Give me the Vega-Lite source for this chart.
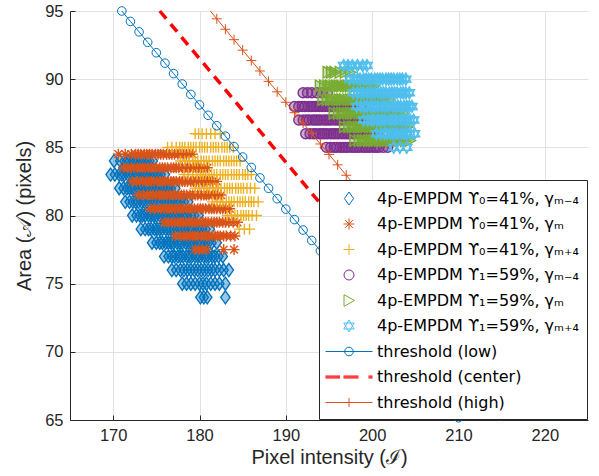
{
  "$schema": "https://vega.github.io/schema/vega-lite/v6.json",
  "width": 518,
  "height": 409,
  "autosize": {"type": "none"},
  "padding": {"left": 70, "top": 11, "right": 11, "bottom": 56},
  "config": {
    "view": {"stroke": null},
    "axis": {"labelFont": "Liberation Sans", "titleFont": "Liberation Sans", "titleFontWeight": "normal", "labelColor": "#262626", "titleColor": "#262626", "domainColor": "#262626", "tickColor": "#262626", "gridColor": "#e2e2e2", "labelFontSize": 16.5, "titleFontSize": 20, "tickSize": -5}
  },
  "datasets": {
    "pts": [
      {"s":"a","x":170.1,"y":84},{"s":"a","x":170.8,"y":84},{"s":"a","x":171.3,"y":84},{"s":"a","x":171.6,"y":84},{"s":"a","x":171.9,"y":84},{"s":"a","x":172.3,"y":84},{"s":"a","x":172.6,"y":84},{"s":"a","x":172.9,"y":84},{"s":"a","x":173.2,"y":84},{"s":"a","x":173.5,"y":84},{"s":"a","x":173.9,"y":84},{"s":"a","x":174.2,"y":84},{"s":"a","x":174.6,"y":84},
      {"s":"a","x":169.7,"y":83},{"s":"a","x":170.2,"y":83},{"s":"a","x":170.7,"y":83},{"s":"a","x":171.0,"y":83},{"s":"a","x":171.3,"y":83},{"s":"a","x":171.7,"y":83},{"s":"a","x":172.0,"y":83},{"s":"a","x":172.3,"y":83},{"s":"a","x":172.6,"y":83},{"s":"a","x":172.9,"y":83},{"s":"a","x":173.3,"y":83},{"s":"a","x":173.6,"y":83},{"s":"a","x":173.9,"y":83},{"s":"a","x":174.2,"y":83},{"s":"a","x":174.6,"y":83},{"s":"a","x":174.9,"y":83},{"s":"a","x":175.2,"y":83},{"s":"a","x":175.5,"y":83},{"s":"a","x":176.0,"y":83},
      {"s":"a","x":170.7,"y":82},{"s":"a","x":171.2,"y":82},{"s":"a","x":171.6,"y":82},{"s":"a","x":171.9,"y":82},{"s":"a","x":172.2,"y":82},{"s":"a","x":172.5,"y":82},{"s":"a","x":172.9,"y":82},{"s":"a","x":173.2,"y":82},{"s":"a","x":173.5,"y":82},{"s":"a","x":173.8,"y":82},{"s":"a","x":174.1,"y":82},{"s":"a","x":174.5,"y":82},{"s":"a","x":174.8,"y":82},{"s":"a","x":175.1,"y":82},{"s":"a","x":175.4,"y":82},{"s":"a","x":175.8,"y":82},{"s":"a","x":176.1,"y":82},{"s":"a","x":176.4,"y":82},{"s":"a","x":176.7,"y":82},{"s":"a","x":177.2,"y":82},
      {"s":"a","x":171.4,"y":81},{"s":"a","x":171.9,"y":81},{"s":"a","x":172.3,"y":81},{"s":"a","x":172.6,"y":81},{"s":"a","x":172.9,"y":81},{"s":"a","x":173.3,"y":81},{"s":"a","x":173.6,"y":81},{"s":"a","x":173.9,"y":81},{"s":"a","x":174.2,"y":81},{"s":"a","x":174.6,"y":81},{"s":"a","x":174.9,"y":81},{"s":"a","x":175.2,"y":81},{"s":"a","x":175.5,"y":81},{"s":"a","x":175.9,"y":81},{"s":"a","x":176.2,"y":81},{"s":"a","x":176.5,"y":81},{"s":"a","x":176.8,"y":81},{"s":"a","x":177.2,"y":81},{"s":"a","x":177.5,"y":81},{"s":"a","x":177.8,"y":81},{"s":"a","x":178.2,"y":81},{"s":"a","x":178.7,"y":81},
      {"s":"a","x":172.2,"y":80},{"s":"a","x":172.7,"y":80},{"s":"a","x":173.1,"y":80},{"s":"a","x":173.4,"y":80},{"s":"a","x":173.7,"y":80},{"s":"a","x":174.1,"y":80},{"s":"a","x":174.4,"y":80},{"s":"a","x":174.7,"y":80},{"s":"a","x":175.0,"y":80},{"s":"a","x":175.4,"y":80},{"s":"a","x":175.7,"y":80},{"s":"a","x":176.0,"y":80},{"s":"a","x":176.3,"y":80},{"s":"a","x":176.7,"y":80},{"s":"a","x":177.0,"y":80},{"s":"a","x":177.3,"y":80},{"s":"a","x":177.6,"y":80},{"s":"a","x":178.0,"y":80},{"s":"a","x":178.3,"y":80},{"s":"a","x":178.6,"y":80},{"s":"a","x":179.0,"y":80},{"s":"a","x":179.4,"y":80},{"s":"a","x":179.9,"y":80},
      {"s":"a","x":173.2,"y":79},{"s":"a","x":173.7,"y":79},{"s":"a","x":174.1,"y":79},{"s":"a","x":174.4,"y":79},{"s":"a","x":174.8,"y":79},{"s":"a","x":175.1,"y":79},{"s":"a","x":175.4,"y":79},{"s":"a","x":175.7,"y":79},{"s":"a","x":176.1,"y":79},{"s":"a","x":176.4,"y":79},{"s":"a","x":176.7,"y":79},{"s":"a","x":177.0,"y":79},{"s":"a","x":177.4,"y":79},{"s":"a","x":177.7,"y":79},{"s":"a","x":178.0,"y":79},{"s":"a","x":178.3,"y":79},{"s":"a","x":178.7,"y":79},{"s":"a","x":179.0,"y":79},{"s":"a","x":179.3,"y":79},{"s":"a","x":179.7,"y":79},{"s":"a","x":180.0,"y":79},{"s":"a","x":180.3,"y":79},{"s":"a","x":180.7,"y":79},{"s":"a","x":181.2,"y":79},
      {"s":"a","x":174.5,"y":78},{"s":"a","x":175.0,"y":78},{"s":"a","x":175.4,"y":78},{"s":"a","x":175.7,"y":78},{"s":"a","x":176.1,"y":78},{"s":"a","x":176.4,"y":78},{"s":"a","x":176.7,"y":78},{"s":"a","x":177.0,"y":78},{"s":"a","x":177.4,"y":78},{"s":"a","x":177.7,"y":78},{"s":"a","x":178.0,"y":78},{"s":"a","x":178.4,"y":78},{"s":"a","x":178.7,"y":78},{"s":"a","x":179.0,"y":78},{"s":"a","x":179.3,"y":78},{"s":"a","x":179.7,"y":78},{"s":"a","x":180.0,"y":78},{"s":"a","x":180.3,"y":78},{"s":"a","x":180.7,"y":78},{"s":"a","x":181.0,"y":78},{"s":"a","x":181.4,"y":78},{"s":"a","x":182.0,"y":78},
      {"s":"a","x":175.9,"y":77},{"s":"a","x":176.4,"y":77},{"s":"a","x":176.8,"y":77},{"s":"a","x":177.1,"y":77},{"s":"a","x":177.5,"y":77},{"s":"a","x":177.8,"y":77},{"s":"a","x":178.1,"y":77},{"s":"a","x":178.5,"y":77},{"s":"a","x":178.8,"y":77},{"s":"a","x":179.1,"y":77},{"s":"a","x":179.5,"y":77},{"s":"a","x":179.8,"y":77},{"s":"a","x":180.1,"y":77},{"s":"a","x":180.5,"y":77},{"s":"a","x":180.8,"y":77},{"s":"a","x":181.1,"y":77},{"s":"a","x":181.5,"y":77},{"s":"a","x":181.8,"y":77},{"s":"a","x":182.2,"y":77},{"s":"a","x":182.7,"y":77},
      {"s":"a","x":176.8,"y":76},{"s":"a","x":177.3,"y":76},{"s":"a","x":177.8,"y":76},{"s":"a","x":178.2,"y":76},{"s":"a","x":178.6,"y":76},{"s":"a","x":179.0,"y":76},{"s":"a","x":179.4,"y":76},{"s":"a","x":179.8,"y":76},{"s":"a","x":180.2,"y":76},{"s":"a","x":180.6,"y":76},{"s":"a","x":181.0,"y":76},{"s":"a","x":181.4,"y":76},{"s":"a","x":181.8,"y":76},{"s":"a","x":182.3,"y":76},{"s":"a","x":182.8,"y":76},{"s":"a","x":183.4,"y":76},
      {"s":"a","x":178.0,"y":75},{"s":"a","x":178.5,"y":75},{"s":"a","x":179.0,"y":75},{"s":"a","x":179.5,"y":75},{"s":"a","x":180.0,"y":75},{"s":"a","x":180.4,"y":75},{"s":"a","x":180.8,"y":75},{"s":"a","x":181.3,"y":75},{"s":"a","x":181.8,"y":75},{"s":"a","x":182.3,"y":75},{"s":"a","x":183.0,"y":75},
      {"s":"a","x":180.1,"y":74},{"s":"a","x":180.5,"y":74},{"s":"a","x":180.9,"y":74},{"s":"a","x":183.0,"y":74},

      {"s":"b","x":170.6,"y":84.5},{"s":"b","x":171.4,"y":84.5},{"s":"b","x":172.1,"y":84.5},{"s":"b","x":172.6,"y":84.5},{"s":"b","x":172.9,"y":84.5},{"s":"b","x":173.2,"y":84.5},{"s":"b","x":173.6,"y":84.5},{"s":"b","x":173.9,"y":84.5},{"s":"b","x":174.2,"y":84.5},{"s":"b","x":174.5,"y":84.5},{"s":"b","x":174.9,"y":84.5},{"s":"b","x":175.2,"y":84.5},{"s":"b","x":175.5,"y":84.5},{"s":"b","x":175.8,"y":84.5},{"s":"b","x":176.2,"y":84.5},{"s":"b","x":176.5,"y":84.5},{"s":"b","x":176.8,"y":84.5},{"s":"b","x":177.1,"y":84.5},{"s":"b","x":177.5,"y":84.5},{"s":"b","x":177.8,"y":84.5},{"s":"b","x":178.1,"y":84.5},{"s":"b","x":178.5,"y":84.5},{"s":"b","x":178.8,"y":84.5},{"s":"b","x":179.2,"y":84.5},
      {"s":"b","x":171.2,"y":83.5},{"s":"b","x":171.7,"y":83.5},{"s":"b","x":172.1,"y":83.5},{"s":"b","x":172.4,"y":83.5},{"s":"b","x":172.8,"y":83.5},{"s":"b","x":173.1,"y":83.5},{"s":"b","x":173.4,"y":83.5},{"s":"b","x":173.7,"y":83.5},{"s":"b","x":174.1,"y":83.5},{"s":"b","x":174.4,"y":83.5},{"s":"b","x":174.7,"y":83.5},{"s":"b","x":175.0,"y":83.5},{"s":"b","x":175.4,"y":83.5},{"s":"b","x":175.7,"y":83.5},{"s":"b","x":176.0,"y":83.5},{"s":"b","x":176.3,"y":83.5},{"s":"b","x":176.7,"y":83.5},{"s":"b","x":177.0,"y":83.5},{"s":"b","x":177.3,"y":83.5},{"s":"b","x":177.6,"y":83.5},{"s":"b","x":178.0,"y":83.5},{"s":"b","x":178.3,"y":83.5},{"s":"b","x":178.6,"y":83.5},{"s":"b","x":178.9,"y":83.5},{"s":"b","x":179.3,"y":83.5},{"s":"b","x":179.6,"y":83.5},{"s":"b","x":179.9,"y":83.5},{"s":"b","x":180.2,"y":83.5},{"s":"b","x":180.5,"y":83.5},{"s":"b","x":180.9,"y":83.5},
      {"s":"b","x":172.2,"y":82.5},{"s":"b","x":172.7,"y":82.5},{"s":"b","x":173.1,"y":82.5},{"s":"b","x":173.4,"y":82.5},{"s":"b","x":173.8,"y":82.5},{"s":"b","x":174.1,"y":82.5},{"s":"b","x":174.4,"y":82.5},{"s":"b","x":174.7,"y":82.5},{"s":"b","x":175.1,"y":82.5},{"s":"b","x":175.4,"y":82.5},{"s":"b","x":175.7,"y":82.5},{"s":"b","x":176.0,"y":82.5},{"s":"b","x":176.4,"y":82.5},{"s":"b","x":176.7,"y":82.5},{"s":"b","x":177.0,"y":82.5},{"s":"b","x":177.3,"y":82.5},{"s":"b","x":177.7,"y":82.5},{"s":"b","x":178.0,"y":82.5},{"s":"b","x":178.3,"y":82.5},{"s":"b","x":178.6,"y":82.5},{"s":"b","x":179.0,"y":82.5},{"s":"b","x":179.3,"y":82.5},{"s":"b","x":179.6,"y":82.5},{"s":"b","x":179.9,"y":82.5},{"s":"b","x":180.3,"y":82.5},{"s":"b","x":180.6,"y":82.5},{"s":"b","x":180.9,"y":82.5},{"s":"b","x":181.2,"y":82.5},{"s":"b","x":181.5,"y":82.5},{"s":"b","x":182.0,"y":82.5},
      {"s":"b","x":172.9,"y":81.5},{"s":"b","x":173.5,"y":81.5},{"s":"b","x":174.0,"y":81.5},{"s":"b","x":174.3,"y":81.5},{"s":"b","x":174.6,"y":81.5},{"s":"b","x":175.0,"y":81.5},{"s":"b","x":175.3,"y":81.5},{"s":"b","x":175.6,"y":81.5},{"s":"b","x":175.9,"y":81.5},{"s":"b","x":176.3,"y":81.5},{"s":"b","x":176.6,"y":81.5},{"s":"b","x":176.9,"y":81.5},{"s":"b","x":177.2,"y":81.5},{"s":"b","x":177.6,"y":81.5},{"s":"b","x":177.9,"y":81.5},{"s":"b","x":178.2,"y":81.5},{"s":"b","x":178.5,"y":81.5},{"s":"b","x":178.9,"y":81.5},{"s":"b","x":179.2,"y":81.5},{"s":"b","x":179.5,"y":81.5},{"s":"b","x":179.8,"y":81.5},{"s":"b","x":180.2,"y":81.5},{"s":"b","x":180.5,"y":81.5},{"s":"b","x":180.8,"y":81.5},{"s":"b","x":181.1,"y":81.5},{"s":"b","x":181.5,"y":81.5},{"s":"b","x":181.8,"y":81.5},{"s":"b","x":182.1,"y":81.5},{"s":"b","x":182.5,"y":81.5},
      {"s":"b","x":174.3,"y":80.5},{"s":"b","x":174.8,"y":80.5},{"s":"b","x":175.2,"y":80.5},{"s":"b","x":175.5,"y":80.5},{"s":"b","x":175.9,"y":80.5},{"s":"b","x":176.2,"y":80.5},{"s":"b","x":176.5,"y":80.5},{"s":"b","x":176.8,"y":80.5},{"s":"b","x":177.2,"y":80.5},{"s":"b","x":177.5,"y":80.5},{"s":"b","x":177.8,"y":80.5},{"s":"b","x":178.1,"y":80.5},{"s":"b","x":178.5,"y":80.5},{"s":"b","x":178.8,"y":80.5},{"s":"b","x":179.1,"y":80.5},{"s":"b","x":179.4,"y":80.5},{"s":"b","x":179.8,"y":80.5},{"s":"b","x":180.1,"y":80.5},{"s":"b","x":180.4,"y":80.5},{"s":"b","x":180.7,"y":80.5},{"s":"b","x":181.1,"y":80.5},{"s":"b","x":181.4,"y":80.5},{"s":"b","x":181.7,"y":80.5},{"s":"b","x":182.0,"y":80.5},{"s":"b","x":182.4,"y":80.5},{"s":"b","x":182.7,"y":80.5},{"s":"b","x":183.0,"y":80.5},{"s":"b","x":183.5,"y":80.5},
      {"s":"b","x":175.9,"y":79.5},{"s":"b","x":176.4,"y":79.5},{"s":"b","x":176.8,"y":79.5},{"s":"b","x":177.1,"y":79.5},{"s":"b","x":177.5,"y":79.5},{"s":"b","x":177.8,"y":79.5},{"s":"b","x":178.1,"y":79.5},{"s":"b","x":178.4,"y":79.5},{"s":"b","x":178.8,"y":79.5},{"s":"b","x":179.1,"y":79.5},{"s":"b","x":179.4,"y":79.5},{"s":"b","x":179.7,"y":79.5},{"s":"b","x":180.1,"y":79.5},{"s":"b","x":180.4,"y":79.5},{"s":"b","x":180.7,"y":79.5},{"s":"b","x":181.0,"y":79.5},{"s":"b","x":181.4,"y":79.5},{"s":"b","x":181.7,"y":79.5},{"s":"b","x":182.0,"y":79.5},{"s":"b","x":182.3,"y":79.5},{"s":"b","x":182.7,"y":79.5},{"s":"b","x":183.0,"y":79.5},{"s":"b","x":183.4,"y":79.5},{"s":"b","x":183.9,"y":79.5},{"s":"b","x":184.4,"y":79.5},
      {"s":"b","x":177.2,"y":78.5},{"s":"b","x":177.8,"y":78.5},{"s":"b","x":178.2,"y":78.5},{"s":"b","x":178.5,"y":78.5},{"s":"b","x":178.9,"y":78.5},{"s":"b","x":179.2,"y":78.5},{"s":"b","x":179.5,"y":78.5},{"s":"b","x":179.8,"y":78.5},{"s":"b","x":180.2,"y":78.5},{"s":"b","x":180.5,"y":78.5},{"s":"b","x":180.8,"y":78.5},{"s":"b","x":181.1,"y":78.5},{"s":"b","x":181.5,"y":78.5},{"s":"b","x":181.8,"y":78.5},{"s":"b","x":182.1,"y":78.5},{"s":"b","x":182.4,"y":78.5},{"s":"b","x":182.8,"y":78.5},{"s":"b","x":183.1,"y":78.5},{"s":"b","x":183.6,"y":78.5},{"s":"b","x":184.1,"y":78.5},
      {"s":"b","x":179.5,"y":77.5},{"s":"b","x":179.9,"y":77.5},{"s":"b","x":180.3,"y":77.5},{"s":"b","x":180.8,"y":77.5},{"s":"b","x":182.8,"y":77.5},{"s":"b","x":184.0,"y":77.5},

      {"s":"c","x":179.5,"y":86},{"s":"c","x":179.9,"y":86},{"s":"c","x":180.3,"y":86},{"s":"c","x":180.8,"y":86},{"s":"c","x":181.3,"y":86},{"s":"c","x":181.8,"y":86},{"s":"c","x":182.4,"y":86},
      {"s":"c","x":176.3,"y":85},{"s":"c","x":176.8,"y":85},{"s":"c","x":177.3,"y":85},{"s":"c","x":177.7,"y":85},{"s":"c","x":178.0,"y":85},{"s":"c","x":178.3,"y":85},{"s":"c","x":178.7,"y":85},{"s":"c","x":179.0,"y":85},{"s":"c","x":179.3,"y":85},{"s":"c","x":179.6,"y":85},{"s":"c","x":180.0,"y":85},{"s":"c","x":180.3,"y":85},{"s":"c","x":180.6,"y":85},{"s":"c","x":180.9,"y":85},{"s":"c","x":181.3,"y":85},{"s":"c","x":181.6,"y":85},{"s":"c","x":181.9,"y":85},{"s":"c","x":182.2,"y":85},{"s":"c","x":182.6,"y":85},{"s":"c","x":182.9,"y":85},{"s":"c","x":183.2,"y":85},{"s":"c","x":183.5,"y":85},{"s":"c","x":183.9,"y":85},
      {"s":"c","x":177.8,"y":84},{"s":"c","x":178.3,"y":84},{"s":"c","x":178.8,"y":84},{"s":"c","x":179.2,"y":84},{"s":"c","x":179.5,"y":84},{"s":"c","x":179.8,"y":84},{"s":"c","x":180.2,"y":84},{"s":"c","x":180.5,"y":84},{"s":"c","x":180.8,"y":84},{"s":"c","x":181.1,"y":84},{"s":"c","x":181.5,"y":84},{"s":"c","x":181.8,"y":84},{"s":"c","x":182.1,"y":84},{"s":"c","x":182.4,"y":84},{"s":"c","x":182.8,"y":84},{"s":"c","x":183.1,"y":84},{"s":"c","x":183.4,"y":84},{"s":"c","x":183.7,"y":84},{"s":"c","x":184.0,"y":84},{"s":"c","x":184.3,"y":84},{"s":"c","x":184.7,"y":84},
      {"s":"c","x":178.2,"y":83},{"s":"c","x":178.7,"y":83},{"s":"c","x":179.2,"y":83},{"s":"c","x":179.7,"y":83},{"s":"c","x":180.1,"y":83},{"s":"c","x":180.4,"y":83},{"s":"c","x":180.7,"y":83},{"s":"c","x":181.1,"y":83},{"s":"c","x":181.4,"y":83},{"s":"c","x":181.7,"y":83},{"s":"c","x":182.0,"y":83},{"s":"c","x":182.4,"y":83},{"s":"c","x":182.7,"y":83},{"s":"c","x":183.0,"y":83},{"s":"c","x":183.3,"y":83},{"s":"c","x":183.7,"y":83},{"s":"c","x":184.0,"y":83},{"s":"c","x":184.3,"y":83},{"s":"c","x":184.6,"y":83},{"s":"c","x":185.0,"y":83},{"s":"c","x":185.3,"y":83},{"s":"c","x":185.6,"y":83},{"s":"c","x":186.0,"y":83},
      {"s":"c","x":179.5,"y":82},{"s":"c","x":180.0,"y":82},{"s":"c","x":180.5,"y":82},{"s":"c","x":180.9,"y":82},{"s":"c","x":181.2,"y":82},{"s":"c","x":181.6,"y":82},{"s":"c","x":181.9,"y":82},{"s":"c","x":182.2,"y":82},{"s":"c","x":182.5,"y":82},{"s":"c","x":182.9,"y":82},{"s":"c","x":183.2,"y":82},{"s":"c","x":183.5,"y":82},{"s":"c","x":183.8,"y":82},{"s":"c","x":184.2,"y":82},{"s":"c","x":184.5,"y":82},{"s":"c","x":184.8,"y":82},{"s":"c","x":185.1,"y":82},{"s":"c","x":185.5,"y":82},{"s":"c","x":185.9,"y":82},{"s":"c","x":186.4,"y":82},
      {"s":"c","x":181.5,"y":81},{"s":"c","x":182.0,"y":81},{"s":"c","x":182.4,"y":81},{"s":"c","x":182.7,"y":81},{"s":"c","x":183.1,"y":81},{"s":"c","x":183.4,"y":81},{"s":"c","x":183.7,"y":81},{"s":"c","x":184.0,"y":81},{"s":"c","x":184.4,"y":81},{"s":"c","x":184.7,"y":81},{"s":"c","x":185.0,"y":81},{"s":"c","x":185.3,"y":81},{"s":"c","x":185.7,"y":81},{"s":"c","x":186.0,"y":81},{"s":"c","x":186.3,"y":81},{"s":"c","x":186.8,"y":81},
      {"s":"c","x":183.2,"y":80},{"s":"c","x":183.7,"y":80},{"s":"c","x":184.1,"y":80},{"s":"c","x":184.4,"y":80},{"s":"c","x":184.8,"y":80},{"s":"c","x":185.1,"y":80},{"s":"c","x":185.4,"y":80},{"s":"c","x":185.7,"y":80},{"s":"c","x":186.1,"y":80},{"s":"c","x":186.6,"y":80},
      {"s":"c","x":184.6,"y":79},{"s":"c","x":185.2,"y":79},{"s":"c","x":185.8,"y":79},

      {"s":"d","x":192.0,"y":89},{"s":"d","x":192.5,"y":89},{"s":"d","x":193.0,"y":89},{"s":"d","x":193.6,"y":89},{"s":"d","x":194.2,"y":89},{"s":"d","x":194.8,"y":89},
      {"s":"d","x":191.0,"y":88},{"s":"d","x":191.5,"y":88},{"s":"d","x":191.9,"y":88},{"s":"d","x":192.2,"y":88},{"s":"d","x":192.6,"y":88},{"s":"d","x":192.9,"y":88},{"s":"d","x":193.2,"y":88},{"s":"d","x":193.5,"y":88},{"s":"d","x":193.9,"y":88},{"s":"d","x":194.2,"y":88},{"s":"d","x":194.5,"y":88},{"s":"d","x":194.8,"y":88},{"s":"d","x":195.2,"y":88},{"s":"d","x":195.5,"y":88},{"s":"d","x":195.8,"y":88},{"s":"d","x":196.1,"y":88},{"s":"d","x":196.5,"y":88},{"s":"d","x":196.8,"y":88},{"s":"d","x":197.1,"y":88},{"s":"d","x":197.4,"y":88},{"s":"d","x":197.8,"y":88},{"s":"d","x":198.1,"y":88},{"s":"d","x":198.7,"y":88},
      {"s":"d","x":191.5,"y":87},{"s":"d","x":192.0,"y":87},{"s":"d","x":192.4,"y":87},{"s":"d","x":192.7,"y":87},{"s":"d","x":193.1,"y":87},{"s":"d","x":193.4,"y":87},{"s":"d","x":193.7,"y":87},{"s":"d","x":194.0,"y":87},{"s":"d","x":194.4,"y":87},{"s":"d","x":194.7,"y":87},{"s":"d","x":195.0,"y":87},{"s":"d","x":195.3,"y":87},{"s":"d","x":195.7,"y":87},{"s":"d","x":196.0,"y":87},{"s":"d","x":196.3,"y":87},{"s":"d","x":196.6,"y":87},{"s":"d","x":197.0,"y":87},{"s":"d","x":197.3,"y":87},{"s":"d","x":197.6,"y":87},{"s":"d","x":197.9,"y":87},{"s":"d","x":198.3,"y":87},{"s":"d","x":198.6,"y":87},{"s":"d","x":198.9,"y":87},{"s":"d","x":199.3,"y":87},{"s":"d","x":199.8,"y":87},
      {"s":"d","x":192.3,"y":86},{"s":"d","x":192.8,"y":86},{"s":"d","x":193.2,"y":86},{"s":"d","x":193.5,"y":86},{"s":"d","x":193.9,"y":86},{"s":"d","x":194.2,"y":86},{"s":"d","x":194.5,"y":86},{"s":"d","x":194.8,"y":86},{"s":"d","x":195.2,"y":86},{"s":"d","x":195.5,"y":86},{"s":"d","x":195.8,"y":86},{"s":"d","x":196.1,"y":86},{"s":"d","x":196.5,"y":86},{"s":"d","x":196.8,"y":86},{"s":"d","x":197.1,"y":86},{"s":"d","x":197.4,"y":86},{"s":"d","x":197.8,"y":86},{"s":"d","x":198.1,"y":86},{"s":"d","x":198.4,"y":86},{"s":"d","x":198.7,"y":86},{"s":"d","x":199.1,"y":86},{"s":"d","x":199.4,"y":86},{"s":"d","x":199.7,"y":86},{"s":"d","x":200.1,"y":86},{"s":"d","x":200.6,"y":86},
      {"s":"d","x":194.7,"y":85},{"s":"d","x":195.2,"y":85},{"s":"d","x":195.6,"y":85},{"s":"d","x":195.9,"y":85},{"s":"d","x":196.3,"y":85},{"s":"d","x":196.6,"y":85},{"s":"d","x":196.9,"y":85},{"s":"d","x":197.2,"y":85},{"s":"d","x":197.6,"y":85},{"s":"d","x":197.9,"y":85},{"s":"d","x":198.2,"y":85},{"s":"d","x":198.5,"y":85},{"s":"d","x":198.9,"y":85},{"s":"d","x":199.2,"y":85},{"s":"d","x":199.5,"y":85},{"s":"d","x":199.8,"y":85},{"s":"d","x":200.2,"y":85},{"s":"d","x":200.5,"y":85},{"s":"d","x":200.8,"y":85},{"s":"d","x":201.3,"y":85},{"s":"d","x":201.8,"y":85},

      {"s":"e","x":194.9,"y":90.5},{"s":"e","x":195.3,"y":90.5},{"s":"e","x":195.7,"y":90.5},{"s":"e","x":196.3,"y":90.5},{"s":"e","x":196.9,"y":90.5},{"s":"e","x":197.5,"y":90.5},
      {"s":"e","x":194.0,"y":89.5},{"s":"e","x":194.5,"y":89.5},{"s":"e","x":194.9,"y":89.5},{"s":"e","x":195.2,"y":89.5},{"s":"e","x":195.6,"y":89.5},{"s":"e","x":195.9,"y":89.5},{"s":"e","x":196.2,"y":89.5},{"s":"e","x":196.5,"y":89.5},{"s":"e","x":196.9,"y":89.5},{"s":"e","x":197.2,"y":89.5},{"s":"e","x":197.5,"y":89.5},{"s":"e","x":197.8,"y":89.5},{"s":"e","x":198.2,"y":89.5},{"s":"e","x":198.5,"y":89.5},{"s":"e","x":198.8,"y":89.5},{"s":"e","x":199.1,"y":89.5},{"s":"e","x":199.5,"y":89.5},{"s":"e","x":199.8,"y":89.5},{"s":"e","x":200.2,"y":89.5},
      {"s":"e","x":194.3,"y":88.5},{"s":"e","x":194.8,"y":88.5},{"s":"e","x":195.2,"y":88.5},{"s":"e","x":195.5,"y":88.5},{"s":"e","x":195.9,"y":88.5},{"s":"e","x":196.2,"y":88.5},{"s":"e","x":196.5,"y":88.5},{"s":"e","x":196.8,"y":88.5},{"s":"e","x":197.2,"y":88.5},{"s":"e","x":197.5,"y":88.5},{"s":"e","x":197.8,"y":88.5},{"s":"e","x":198.1,"y":88.5},{"s":"e","x":198.5,"y":88.5},{"s":"e","x":198.8,"y":88.5},{"s":"e","x":199.1,"y":88.5},{"s":"e","x":199.4,"y":88.5},{"s":"e","x":199.8,"y":88.5},{"s":"e","x":200.1,"y":88.5},{"s":"e","x":200.4,"y":88.5},{"s":"e","x":200.7,"y":88.5},{"s":"e","x":201.1,"y":88.5},{"s":"e","x":201.5,"y":88.5},{"s":"e","x":202.0,"y":88.5},
      {"s":"e","x":195.6,"y":87.5},{"s":"e","x":196.1,"y":87.5},{"s":"e","x":196.5,"y":87.5},{"s":"e","x":196.8,"y":87.5},{"s":"e","x":197.2,"y":87.5},{"s":"e","x":197.5,"y":87.5},{"s":"e","x":197.8,"y":87.5},{"s":"e","x":198.1,"y":87.5},{"s":"e","x":198.5,"y":87.5},{"s":"e","x":198.8,"y":87.5},{"s":"e","x":199.1,"y":87.5},{"s":"e","x":199.4,"y":87.5},{"s":"e","x":199.8,"y":87.5},{"s":"e","x":200.1,"y":87.5},{"s":"e","x":200.4,"y":87.5},{"s":"e","x":200.7,"y":87.5},{"s":"e","x":201.1,"y":87.5},{"s":"e","x":201.4,"y":87.5},{"s":"e","x":201.7,"y":87.5},{"s":"e","x":202.0,"y":87.5},{"s":"e","x":202.4,"y":87.5},{"s":"e","x":202.7,"y":87.5},{"s":"e","x":203.1,"y":87.5},{"s":"e","x":203.6,"y":87.5},
      {"s":"e","x":196.8,"y":86.5},{"s":"e","x":197.3,"y":86.5},{"s":"e","x":197.7,"y":86.5},{"s":"e","x":198.0,"y":86.5},{"s":"e","x":198.4,"y":86.5},{"s":"e","x":198.7,"y":86.5},{"s":"e","x":199.0,"y":86.5},{"s":"e","x":199.3,"y":86.5},{"s":"e","x":199.7,"y":86.5},{"s":"e","x":200.0,"y":86.5},{"s":"e","x":200.3,"y":86.5},{"s":"e","x":200.6,"y":86.5},{"s":"e","x":201.0,"y":86.5},{"s":"e","x":201.3,"y":86.5},{"s":"e","x":201.6,"y":86.5},{"s":"e","x":201.9,"y":86.5},{"s":"e","x":202.3,"y":86.5},{"s":"e","x":202.6,"y":86.5},{"s":"e","x":202.9,"y":86.5},{"s":"e","x":203.2,"y":86.5},{"s":"e","x":203.6,"y":86.5},{"s":"e","x":204.1,"y":86.5},
      {"s":"e","x":198.0,"y":85.5},{"s":"e","x":198.5,"y":85.5},{"s":"e","x":198.9,"y":85.5},{"s":"e","x":199.2,"y":85.5},{"s":"e","x":199.6,"y":85.5},{"s":"e","x":199.9,"y":85.5},{"s":"e","x":200.2,"y":85.5},{"s":"e","x":200.5,"y":85.5},{"s":"e","x":200.9,"y":85.5},{"s":"e","x":201.2,"y":85.5},{"s":"e","x":201.5,"y":85.5},{"s":"e","x":201.8,"y":85.5},{"s":"e","x":202.2,"y":85.5},{"s":"e","x":202.5,"y":85.5},{"s":"e","x":202.8,"y":85.5},{"s":"e","x":203.1,"y":85.5},{"s":"e","x":203.5,"y":85.5},{"s":"e","x":203.9,"y":85.5},{"s":"e","x":204.4,"y":85.5},

      {"s":"f","x":196.7,"y":91},{"s":"f","x":197.2,"y":91},{"s":"f","x":197.7,"y":91},{"s":"f","x":198.3,"y":91},{"s":"f","x":198.9,"y":91},{"s":"f","x":199.4,"y":91},
      {"s":"f","x":197.4,"y":90},{"s":"f","x":197.9,"y":90},{"s":"f","x":198.3,"y":90},{"s":"f","x":198.6,"y":90},{"s":"f","x":199.0,"y":90},{"s":"f","x":199.3,"y":90},{"s":"f","x":199.6,"y":90},{"s":"f","x":199.9,"y":90},{"s":"f","x":200.3,"y":90},{"s":"f","x":200.6,"y":90},{"s":"f","x":200.9,"y":90},{"s":"f","x":201.2,"y":90},{"s":"f","x":201.6,"y":90},{"s":"f","x":201.9,"y":90},{"s":"f","x":202.2,"y":90},{"s":"f","x":202.5,"y":90},{"s":"f","x":202.9,"y":90},{"s":"f","x":203.2,"y":90},{"s":"f","x":203.5,"y":90},{"s":"f","x":203.9,"y":90},
      {"s":"f","x":197.8,"y":89},{"s":"f","x":198.3,"y":89},{"s":"f","x":198.7,"y":89},{"s":"f","x":199.0,"y":89},{"s":"f","x":199.4,"y":89},{"s":"f","x":199.7,"y":89},{"s":"f","x":200.0,"y":89},{"s":"f","x":200.3,"y":89},{"s":"f","x":200.7,"y":89},{"s":"f","x":201.0,"y":89},{"s":"f","x":201.3,"y":89},{"s":"f","x":201.6,"y":89},{"s":"f","x":202.0,"y":89},{"s":"f","x":202.3,"y":89},{"s":"f","x":202.6,"y":89},{"s":"f","x":202.9,"y":89},{"s":"f","x":203.3,"y":89},{"s":"f","x":203.6,"y":89},{"s":"f","x":203.9,"y":89},{"s":"f","x":204.3,"y":89},
      {"s":"f","x":198.2,"y":88},{"s":"f","x":198.7,"y":88},{"s":"f","x":199.1,"y":88},{"s":"f","x":199.4,"y":88},{"s":"f","x":199.8,"y":88},{"s":"f","x":200.1,"y":88},{"s":"f","x":200.4,"y":88},{"s":"f","x":200.7,"y":88},{"s":"f","x":201.1,"y":88},{"s":"f","x":201.4,"y":88},{"s":"f","x":201.7,"y":88},{"s":"f","x":202.0,"y":88},{"s":"f","x":202.4,"y":88},{"s":"f","x":202.7,"y":88},{"s":"f","x":203.0,"y":88},{"s":"f","x":203.3,"y":88},{"s":"f","x":203.7,"y":88},{"s":"f","x":204.0,"y":88},{"s":"f","x":204.3,"y":88},{"s":"f","x":204.6,"y":88},
      {"s":"f","x":199.0,"y":87},{"s":"f","x":199.5,"y":87},{"s":"f","x":199.9,"y":87},{"s":"f","x":200.2,"y":87},{"s":"f","x":200.6,"y":87},{"s":"f","x":200.9,"y":87},{"s":"f","x":201.2,"y":87},{"s":"f","x":201.5,"y":87},{"s":"f","x":201.9,"y":87},{"s":"f","x":202.2,"y":87},{"s":"f","x":202.5,"y":87},{"s":"f","x":202.8,"y":87},{"s":"f","x":203.2,"y":87},{"s":"f","x":203.5,"y":87},{"s":"f","x":203.8,"y":87},{"s":"f","x":204.1,"y":87},{"s":"f","x":204.4,"y":87},{"s":"f","x":204.8,"y":87},
      {"s":"f","x":200.5,"y":86},{"s":"f","x":201.0,"y":86},{"s":"f","x":201.4,"y":86},{"s":"f","x":201.7,"y":86},{"s":"f","x":202.1,"y":86},{"s":"f","x":202.4,"y":86},{"s":"f","x":202.7,"y":86},{"s":"f","x":203.0,"y":86},{"s":"f","x":203.4,"y":86},{"s":"f","x":203.7,"y":86},{"s":"f","x":204.0,"y":86},{"s":"f","x":204.4,"y":86},{"s":"f","x":204.9,"y":86},
      {"s":"f","x":202.5,"y":85},{"s":"f","x":203.2,"y":85},{"s":"f","x":204.0,"y":85}
    ],
    "low": [
      {"x":171,"y":95.0},{"x":172,"y":94.235},{"x":173,"y":93.47},{"x":174,"y":92.705},{"x":175,"y":91.94},{"x":176,"y":91.175},{"x":177,"y":90.41},{"x":178,"y":89.645},{"x":179,"y":88.88},{"x":180,"y":88.115},
      {"x":181,"y":87.35},{"x":182,"y":86.585},{"x":183,"y":85.82},{"x":184,"y":85.055},{"x":185,"y":84.29},{"x":186,"y":83.525},{"x":187,"y":82.76},{"x":188,"y":81.995},{"x":189,"y":81.23},{"x":190,"y":80.465},
      {"x":191,"y":79.7},{"x":192,"y":78.935},{"x":193,"y":78.17},{"x":194,"y":77.405},{"x":195,"y":76.64},{"x":196,"y":75.875},{"x":197,"y":75.11},{"x":198,"y":74.345},{"x":199,"y":73.58},{"x":200,"y":72.815},
      {"x":201,"y":72.05},{"x":202,"y":71.285},{"x":203,"y":70.52},{"x":204,"y":69.755},{"x":205,"y":68.99},{"x":206,"y":68.225},{"x":207,"y":67.46},{"x":208,"y":66.695},{"x":209,"y":65.93},{"x":210,"y":65.165}
    ],
    "center": [
      {"x":175.4,"y":95},{"x":214.9,"y":65}
    ],
    "highLine": [
      {"x":181.25,"y":95},{"x":220.47,"y":65}
    ],
    "highMarks": [
      {"x":182,"y":94.426},{"x":183,"y":93.661},{"x":184,"y":92.896},{"x":185,"y":92.131},{"x":186,"y":91.366},{"x":187,"y":90.601},{"x":188,"y":89.836},{"x":189,"y":89.071},{"x":190,"y":88.306},
      {"x":191,"y":87.541},{"x":192,"y":86.776},{"x":193,"y":86.011},{"x":194,"y":85.246},{"x":195,"y":84.481},{"x":196,"y":83.716},{"x":197,"y":82.951},{"x":198,"y":82.186}
    ]
  },
  "layer": [
    {
      "data": {"name": "pts"},
      "mark": {"type": "point", "filled": true, "fillOpacity": 0.4, "size": 400, "strokeWidth": 1.4, "strokeOpacity": 1, "clip": false},
      "encoding": {
        "x": {"field": "x", "type": "quantitative", "scale": {"domain": [165, 225], "nice": false, "zero": false},
          "axis": {"title": "Pixel intensity (ℐ)", "values": [170, 180, 190, 200, 210, 220], "grid": true, "labelPadding": 12, "titlePadding": 4}},
        "y": {"field": "y", "type": "quantitative", "scale": {"domain": [65, 95], "nice": false, "zero": false},
          "axis": {"title": "Area (𝒜) (pixels)", "values": [65, 70, 75, 80, 85, 90, 95], "grid": true, "labelPadding": 12, "titlePadding": 10}},
        "stroke": {"field": "s", "type": "nominal",
          "scale": {"domain": ["a", "b", "c", "d", "e", "f", "g", "h", "i"],
            "range": ["#0072BD", "#D95319", "#EDB120", "#7E2F8E", "#77AC30", "#4DBEEE", "#0072BD", "#FF0000", "#D95319"]},
          "legend": {
            "title": null, "orient": "bottom-right", "offset": 1,
            "strokeColor": "#262626", "fillColor": "white", "padding": 8,
            "symbolSize": 400, "symbolStrokeWidth": 1, "symbolFillColor": "transparent",
            "symbolOffset": 11.5, "labelOffset": 17.5, "rowPadding": 6.5,
            "labelFont": "DejaVu Sans", "labelFontSize": 16, "labelColor": "#000000", "labelLimit": 320,
            "labelExpr": "datum.value=='a'?'4p-EMPDM ϒ₀=41%, γₘ₋₄':datum.value=='b'?'4p-EMPDM ϒ₀=41%, γₘ':datum.value=='c'?'4p-EMPDM ϒ₀=41%, γₘ₊₄':datum.value=='d'?'4p-EMPDM ϒ₁=59%, γₘ₋₄':datum.value=='e'?'4p-EMPDM ϒ₁=59%, γₘ':datum.value=='f'?'4p-EMPDM ϒ₁=59%, γₘ₊₄':datum.value=='g'?'threshold (low)':datum.value=='h'?'threshold (center)':'threshold (high)'",
            "encode": {"symbols": {"update": {"fill": {"value": "transparent"}, "fillOpacity": {"value": 0}}}}
          }},
        "fill": {"field": "s", "type": "nominal",
          "scale": {"domain": ["a", "b", "c", "d", "e", "f", "g", "h", "i"],
            "range": ["#0072BD", "#D95319", "#EDB120", "#7E2F8E", "#77AC30", "#4DBEEE", "#0072BD", "#FF0000", "#D95319"]}},
        "shape": {"field": "s", "type": "nominal",
          "scale": {"domain": ["a", "b", "c", "d", "e", "f", "g", "h", "i"],
            "range": [
              "M0,-0.65L0.46,0L0,0.65L-0.46,0Z",
              "M0,-0.55V0.55M-0.55,0H0.55M-0.39,-0.39L0.39,0.39M-0.39,0.39L0.39,-0.39",
              "M0,-0.55V0.55M-0.55,0H0.55",
              "M0.5,0A0.5,0.5 0 1 1 -0.5,0A0.5,0.5 0 1 1 0.5,0Z",
              "M0.55,0L-0.5,-0.58L-0.5,0.58Z",
              "M0,-0.6L0.52,0.3L-0.52,0.3ZM0,0.6L0.52,-0.3L-0.52,-0.3Z",
              "M-2.35,0H2.35M0.43,0A0.43,0.43 0 1 1 -0.43,0A0.43,0.43 0 1 1 0.43,0",
              "M-2.35,-0.1H-0.9M-2.35,0H-0.9M-2.35,0.1H-0.9M-0.55,-0.1H0.95M-0.55,0H0.95M-0.55,0.1H0.95M1.95,-0.1H2.35M1.95,0H2.35M1.95,0.1H2.35",
              "M-2.35,0H2.35M0,-0.45V0.45"
            ]}}
      }
    },
    {
      "data": {"name": "low"},
      "mark": {"type": "line", "color": "#0072BD", "strokeWidth": 1, "clip": false},
      "encoding": {"x": {"field": "x", "type": "quantitative"}, "y": {"field": "y", "type": "quantitative"}}
    },
    {
      "data": {"name": "low"},
      "mark": {"type": "point", "filled": false, "color": "#0072BD", "size": 400, "strokeWidth": 1, "opacity": 1, "clip": false,
        "shape": "M0.43,0A0.43,0.43 0 1 1 -0.43,0A0.43,0.43 0 1 1 0.43,0Z"},
      "encoding": {"x": {"field": "x", "type": "quantitative"}, "y": {"field": "y", "type": "quantitative"}}
    },
    {
      "data": {"name": "center"},
      "mark": {"type": "line", "color": "#FF0000", "strokeWidth": 3.5, "strokeDash": [10, 7], "clip": false},
      "encoding": {"x": {"field": "x", "type": "quantitative"}, "y": {"field": "y", "type": "quantitative"}}
    },
    {
      "data": {"name": "highLine"},
      "mark": {"type": "line", "color": "#D95319", "strokeWidth": 1, "clip": false},
      "encoding": {"x": {"field": "x", "type": "quantitative"}, "y": {"field": "y", "type": "quantitative"}}
    },
    {
      "data": {"name": "highMarks"},
      "mark": {"type": "point", "filled": false, "color": "#D95319", "size": 400, "strokeWidth": 1, "opacity": 1, "clip": false,
        "shape": "M0,-0.5V0.5M-0.5,0H0.5"},
      "encoding": {"x": {"field": "x", "type": "quantitative"}, "y": {"field": "y", "type": "quantitative"}}
    }
  ]
}
